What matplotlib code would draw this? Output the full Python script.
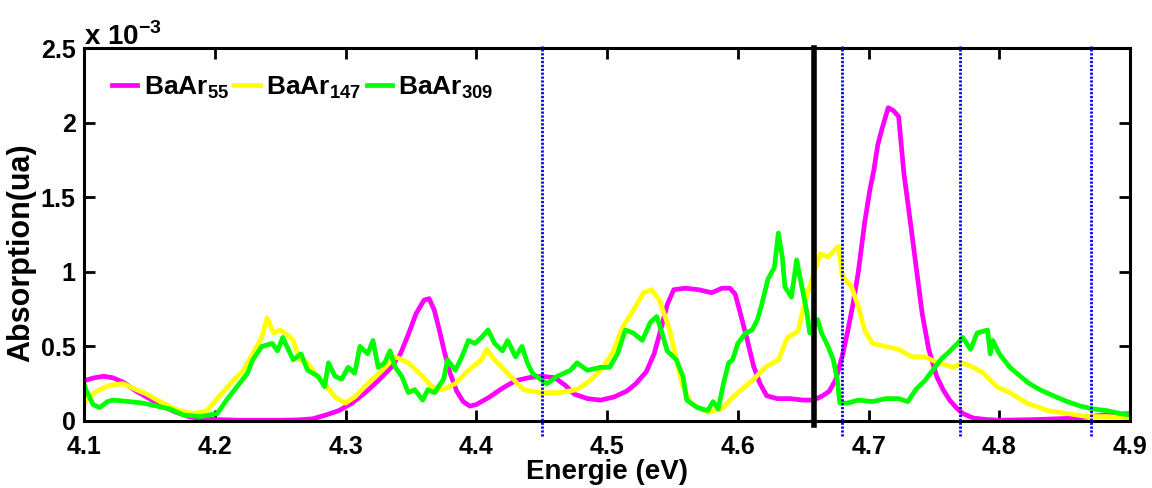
import numpy as np
import matplotlib
matplotlib.use('Agg')
import matplotlib.pyplot as plt
from matplotlib.ticker import FuncFormatter

plt.rcParams['font.family'] = ['Liberation Sans', 'DejaVu Sans']
plt.rcParams['font.weight'] = 'bold'
plt.rcParams['mathtext.fontset'] = 'custom'
plt.rcParams['mathtext.rm'] = 'Liberation Sans:bold'
plt.rcParams['mathtext.bf'] = 'Liberation Sans:bold'

# ============================================================
# DATA  (absorption in units of 1e-3)
# ============================================================
e_55 = [4.100, 4.108, 4.115, 4.122, 4.130, 4.140, 4.150, 4.160, 4.170, 4.180,
        4.190, 4.200, 4.220, 4.250, 4.265, 4.275, 4.285, 4.295, 4.305, 4.315,
        4.325, 4.335, 4.342, 4.348, 4.354, 4.360, 4.364, 4.368, 4.372, 4.376,
        4.380, 4.385, 4.390, 4.395, 4.400, 4.410, 4.420, 4.430, 4.440, 4.450,
        4.460, 4.468, 4.475, 4.485, 4.495, 4.505, 4.515, 4.522, 4.530, 4.536,
        4.541, 4.546, 4.551, 4.560, 4.570, 4.580, 4.588, 4.594, 4.598, 4.602,
        4.607, 4.612, 4.617, 4.622, 4.630, 4.640, 4.650, 4.658, 4.665, 4.670,
        4.675, 4.680, 4.684, 4.688, 4.692, 4.697, 4.701, 4.704, 4.707, 4.710,
        4.715, 4.719, 4.723, 4.727, 4.732, 4.737, 4.741, 4.746, 4.752, 4.757,
        4.762, 4.767, 4.772, 4.780, 4.790, 4.800, 4.830, 4.860, 4.880, 4.900]
a_55 = [0.27, 0.29, 0.30, 0.29, 0.26, 0.20, 0.15, 0.10, 0.06, 0.03,
        0.015, 0.01, 0.005, 0.005, 0.008, 0.015, 0.04, 0.07, 0.12, 0.19,
        0.27, 0.36, 0.45, 0.58, 0.72, 0.81, 0.82, 0.74, 0.60, 0.45,
        0.32, 0.20, 0.13, 0.10, 0.11, 0.16, 0.22, 0.27, 0.29, 0.30,
        0.29, 0.24, 0.18, 0.15, 0.14, 0.16, 0.20, 0.25, 0.33, 0.45,
        0.61, 0.78, 0.88, 0.89, 0.88, 0.86, 0.89, 0.89, 0.85, 0.72,
        0.55, 0.37, 0.25, 0.17, 0.15, 0.15, 0.14, 0.14, 0.17, 0.20,
        0.28, 0.44, 0.60, 0.78, 0.99, 1.33, 1.55, 1.68, 1.85, 1.95,
        2.10, 2.08, 2.04, 1.66, 1.33, 0.99, 0.72, 0.48, 0.30, 0.21,
        0.14, 0.09, 0.05, 0.02, 0.01, 0.005, 0.01, 0.02, 0.04, 0.05]

e_147 = [4.100, 4.105, 4.112, 4.120, 4.130, 4.140, 4.148, 4.156, 4.165, 4.173,
         4.183, 4.190, 4.194, 4.199, 4.206, 4.214, 4.222, 4.229, 4.236, 4.240,
         4.245, 4.250, 4.255, 4.260, 4.265, 4.271, 4.278, 4.284, 4.292, 4.300,
         4.307, 4.317, 4.328, 4.338, 4.348, 4.359, 4.366, 4.374, 4.384, 4.394,
         4.404, 4.408, 4.414, 4.424, 4.436, 4.449, 4.464, 4.477, 4.487, 4.497,
         4.505, 4.512, 4.520, 4.528, 4.534, 4.540, 4.548, 4.553, 4.558, 4.564,
         4.574, 4.579, 4.589, 4.595, 4.600, 4.611, 4.621, 4.631, 4.638, 4.646,
         4.651, 4.655, 4.663, 4.669, 4.677, 4.680, 4.687, 4.692, 4.697, 4.703,
         4.713, 4.723, 4.733, 4.743, 4.753, 4.765, 4.772, 4.780, 4.788, 4.798,
         4.808, 4.821, 4.837, 4.852, 4.867, 4.882, 4.900]
a_147 = [0.12, 0.17, 0.21, 0.24, 0.25, 0.21, 0.18, 0.14, 0.10, 0.07,
         0.05, 0.06, 0.07, 0.12, 0.19, 0.27, 0.34, 0.45, 0.56, 0.69,
         0.59, 0.61, 0.58, 0.54, 0.41, 0.39, 0.30, 0.25, 0.16, 0.12,
         0.16, 0.25, 0.34, 0.43, 0.39, 0.30, 0.23, 0.21, 0.25, 0.34,
         0.41, 0.48, 0.41, 0.32, 0.21, 0.19, 0.19, 0.21, 0.27, 0.36,
         0.47, 0.63, 0.74, 0.86, 0.88, 0.81, 0.61, 0.41, 0.23, 0.12,
         0.07, 0.06, 0.09, 0.15, 0.19, 0.27, 0.36, 0.41, 0.56, 0.60,
         0.79, 0.90, 1.12, 1.10, 1.17, 0.97, 0.90, 0.77, 0.61, 0.52,
         0.50, 0.48, 0.43, 0.43, 0.39, 0.36, 0.39, 0.36, 0.32, 0.23,
         0.19, 0.12, 0.07, 0.05, 0.03, 0.03, 0.02]

e_309 = [4.100, 4.102, 4.107, 4.112, 4.118, 4.122, 4.135, 4.145, 4.156, 4.166,
         4.176, 4.189, 4.202, 4.209, 4.217, 4.225, 4.229, 4.236, 4.244, 4.248,
         4.252, 4.260, 4.266, 4.271, 4.279, 4.284, 4.287, 4.292, 4.297, 4.302,
         4.307, 4.311, 4.317, 4.321, 4.325, 4.330, 4.334, 4.338, 4.343, 4.348,
         4.353, 4.359, 4.363, 4.368, 4.375, 4.378, 4.384, 4.389, 4.394, 4.399,
         4.404, 4.409, 4.414, 4.420, 4.424, 4.430, 4.435, 4.439, 4.443, 4.449,
         4.454, 4.462, 4.472, 4.477, 4.485, 4.495, 4.502, 4.508, 4.514, 4.520,
         4.527, 4.533, 4.538, 4.542, 4.546, 4.553, 4.558, 4.561, 4.569, 4.577,
         4.581, 4.585, 4.589, 4.593, 4.596, 4.600, 4.606, 4.611, 4.615, 4.618,
         4.623, 4.628, 4.631, 4.634, 4.636, 4.641, 4.645, 4.649, 4.653, 4.655,
         4.661, 4.664, 4.669, 4.673, 4.676, 4.678, 4.684, 4.692, 4.703, 4.713,
         4.723, 4.730, 4.736, 4.743, 4.749, 4.756, 4.760, 4.768, 4.772, 4.778,
         4.783, 4.791, 4.793, 4.795, 4.800, 4.808, 4.816, 4.823, 4.831, 4.841,
         4.852, 4.862, 4.872, 4.882, 4.892, 4.900]
a_309 = [0.25, 0.20, 0.11, 0.09, 0.13, 0.14, 0.13, 0.12, 0.10, 0.08,
         0.04, 0.03, 0.05, 0.14, 0.23, 0.32, 0.41, 0.50, 0.52, 0.47,
         0.56, 0.41, 0.45, 0.34, 0.30, 0.23, 0.39, 0.30, 0.28, 0.36,
         0.32, 0.50, 0.45, 0.54, 0.36, 0.39, 0.47, 0.36, 0.30, 0.19,
         0.21, 0.14, 0.21, 0.19, 0.28, 0.41, 0.34, 0.43, 0.54, 0.52,
         0.56, 0.61, 0.52, 0.47, 0.54, 0.43, 0.50, 0.39, 0.32, 0.28,
         0.25, 0.30, 0.34, 0.39, 0.34, 0.36, 0.36, 0.45, 0.61, 0.59,
         0.54, 0.66, 0.70, 0.59, 0.47, 0.41, 0.30, 0.14, 0.09, 0.07,
         0.13, 0.08, 0.25, 0.39, 0.41, 0.52, 0.59, 0.61, 0.68, 0.77,
         0.95, 1.03, 1.26, 1.10, 0.90, 0.83, 1.08, 0.90, 0.72, 0.59,
         0.68, 0.59, 0.50, 0.41, 0.28, 0.12, 0.12, 0.14, 0.13, 0.15,
         0.15, 0.13, 0.21, 0.27, 0.34, 0.42, 0.45, 0.52, 0.56, 0.48,
         0.59, 0.61, 0.45, 0.54, 0.45, 0.36, 0.30, 0.25, 0.21, 0.17,
         0.13, 0.10, 0.08, 0.07, 0.05, 0.04]

blue_lines = [4.45, 4.68, 4.77, 4.87]
black_line = 4.658

# ============================================================
# FIGURE
# ============================================================
fig = plt.figure(figsize=(11.52, 4.88), dpi=100)
ax = fig.add_axes([0.0729, 0.1373, 0.9081, 0.7643])

ax.plot(e_55, a_55, color='#ff00ff', linewidth=3.4, label=r'BaAr$_{\mathbf{55}}$')
ax.plot(e_147, a_147, color='#ffff00', linewidth=3.4, label=r'BaAr$_{\mathbf{147}}$')
ax.plot(e_309, a_309, color='#00ff00', linewidth=3.4, label=r'BaAr$_{\mathbf{309}}$')

for xv in blue_lines:
    ax.axvline(xv, ymin=-0.04, ymax=1.005, color='#0000ff', linewidth=2.0,
               linestyle=(0, (0.8, 0.6)), clip_on=False, zorder=4)
ax.axvline(black_line, ymin=-0.012, ymax=1.0, color='black', linewidth=4,
           clip_on=False, zorder=5)

ax.set_xlim(4.1, 4.9)
ax.set_ylim(0, 2.5)
ax.set_xticks(np.arange(4.1, 4.91, 0.1))
ax.set_yticks([0, 0.5, 1, 1.5, 2, 2.5])
ax.xaxis.set_major_formatter(FuncFormatter(lambda v, p: f'{v:.1f}'))
ax.yaxis.set_major_formatter(FuncFormatter(lambda v, p: f'{v:g}'))
ax.tick_params(direction='in', length=8, width=2, top=True, right=True,
               labelsize=18)
ax.tick_params(axis='x', pad=10)
ax.tick_params(axis='y', pad=6)
for s in ax.spines.values():
    s.set_linewidth(2.2)

ax.set_xlabel('Energie (eV)', fontsize=20, fontweight='bold', labelpad=0)
ax.set_ylabel('Absorption(ua)', fontsize=22, fontweight='bold')
ax.yaxis.set_label_coords(-0.046, 0.45)
ax.text(0.0, 1.008, r'x 10$^{\mathbf{-3}}$', transform=ax.transAxes,
        fontsize=20, fontweight='bold', ha='left', va='baseline')

ax.legend(loc='upper left', ncol=3, frameon=False, fontsize=19,
          handlelength=0.95, handletextpad=0.25, columnspacing=0.2,
          borderaxespad=0, borderpad=0, bbox_to_anchor=(0.027, 0.93))

plt.savefig('out.png', dpi=100)
